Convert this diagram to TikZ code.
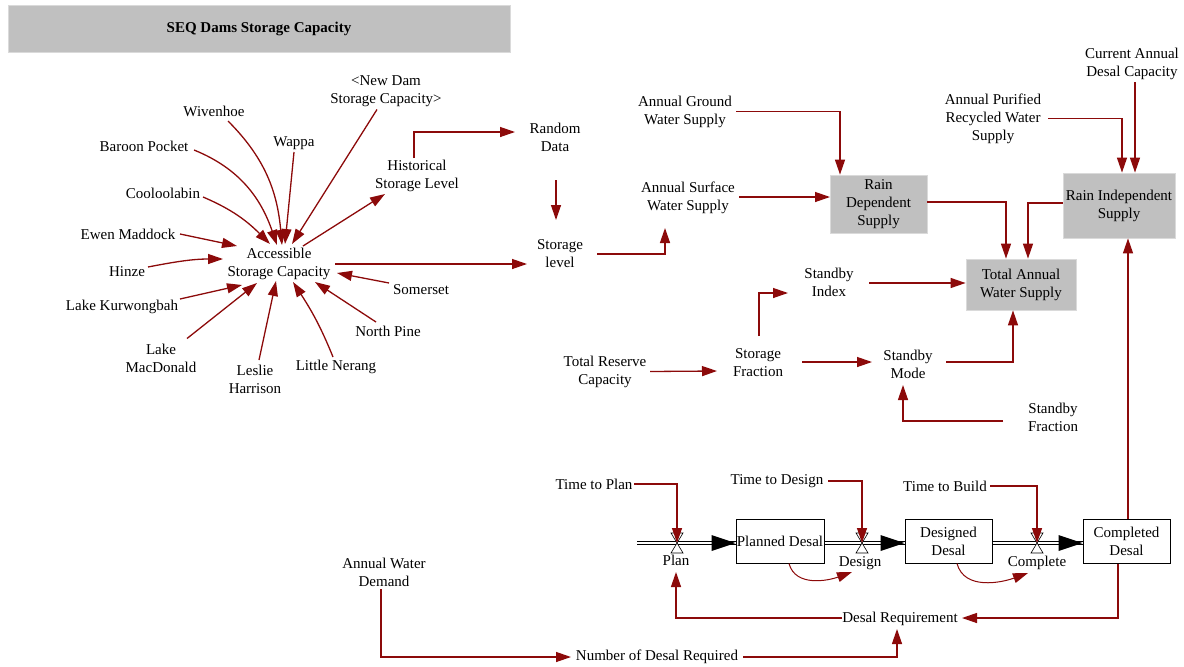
\documentclass[tikz,border=0pt]{standalone}
\usepackage{fontspec}
\setmainfont{Liberation Serif}
\usetikzlibrary{arrows.meta,calc}
\definecolor{dred}{RGB}{140,10,10}
\definecolor{boxgray}{RGB}{192,192,192}
\definecolor{boxedge}{RGB}{218,218,218}
\begin{document}
\begin{tikzpicture}[x=1pt,y=-1pt,
  lab/.style={font=\fontsize{15}{18}\selectfont, align=center, inner sep=1pt},
  lnk/.style={draw=dred, line width=1.3pt, -{Triangle[length=15pt,width=10pt]}},
  gbox/.style={lab, fill=boxgray, draw=boxedge, line width=0.8pt, inner sep=0pt},
  stock/.style={lab, draw=black, line width=1pt, fill=white, inner sep=0pt, minimum height=44pt},
  pipe/.style={draw=black, double=white, double distance=2.6pt, line width=0.9pt},
  valve/.style={draw=black, line width=0.6pt, fill=white},
]
\useasboundingbox (0,0) rectangle (1184,667);
% title
\node[fill=boxgray, draw=boxedge, line width=0.8pt, minimum width=502pt, minimum height=47pt, inner sep=0pt,
  font=\bfseries\fontsize{15}{18}\selectfont] (title) at (259,28.5) {SEQ Dams Storage Capacity};
% left cluster
\node[lab] (acc) at (279,264) {Accessible\\Storage Capacity};
\node[lab] (newdam) at (386,91.5) {<New Dam\\Storage Capacity>};
\node[lab] (wiv) at (214,111) {Wivenhoe};
\node[lab] (wappa) at (294,143) {Wappa};
\node[lab] (baroon) at (144,146) {Baroon Pocket};
\node[lab] (cool) at (163,193) {Cooloolabin};
\node[lab] (hist) at (417,176) {Historical\\Storage Level};
\node[lab] (ewen) at (128,234) {Ewen Maddock};
\node[lab] (hinze) at (127,272) {Hinze};
\node[lab] (kurw) at (122,307) {Lake Kurwongbah};
\node[lab] (macd) at (161,358.5) {Lake\\MacDonald};
\node[lab] (leslie) at (255,379) {Leslie\\Harrison};
\node[lab] (nerang) at (336,367) {Little Nerang};
\node[lab] (npine) at (388,331) {North Pine};
\node[lab] (somer) at (421,290) {Somerset};
% middle
\node[lab] (random) at (555,137) {Random\\Data};
\node[lab] (slevel) at (560,254) {Storage\\level};
\node[lab] (ground) at (685,111.5) {Annual Ground\\Water Supply};
\node[lab] (surface) at (688,198) {Annual Surface\\Water Supply};
\node[gbox, minimum width=97pt, minimum height=58pt] (raindep) at (878.5,204) {Rain\\Dependent\\Supply};
\node[gbox, minimum width=110pt, minimum height=51pt] (total) at (1021,284.5) {Total Annual\\Water Supply};
\node[gbox, minimum width=112pt, minimum height=65pt] (rainind) at (1119,205.5) {Rain Independent\\Supply};
\node[lab] (cadc) at (1132,64) {Current Annual\\Desal Capacity};
\node[lab] (apr) at (993,118.5) {Annual Purified\\Recycled Water\\Supply};
\node[lab] (sidx) at (829,282.5) {Standby\\Index};
\node[lab] (trc) at (605,371.5) {Total Reserve\\Capacity};
\node[lab] (sfrac) at (758,363) {Storage\\Fraction};
\node[lab] (smode) at (908,364) {Standby\\Mode};
\node[lab] (sfx) at (1053,417) {Standby\\Fraction};
% stock and flow
\node[lab] (tplan) at (594,484) {Time to Plan};
\node[lab] (tdesign) at (777,481) {Time to Design};
\node[lab] (tbuild) at (945,486) {Time to Build};
\node[stock, minimum width=88pt] (pd) at (780,541) {Planned Desal};
\node[stock, minimum width=87pt] (dd) at (948.5,541) {Designed\\Desal};
\node[stock, minimum width=87pt] (cd) at (1126.5,541) {Completed\\Desal};
\node[lab] (planlab) at (676,560) {Plan};
\node[lab] (designlab) at (860,563) {Design};
\node[lab] (complab) at (1037,563) {Complete};
\node[lab] (dreq) at (900,619) {Desal Requirement};
\node[lab] (awd) at (384,572) {Annual Water\\Demand};
\node[lab] (ndr) at (657,657) {Number of Desal Required};
\coordinate (src) at (637,543);
\coordinate (vplan) at (677,543);
\coordinate (vdesign) at (862,543);
\coordinate (vcomp) at (1037,543);
% pipes
\draw[pipe] (src) -- ($(pd.west)+(0,2)$);
\draw[pipe] ($(pd.east)+(0,2)$) -- ($(dd.west)+(0,2)$);
\draw[pipe] ($(dd.east)+(0,2)$) -- ($(cd.west)+(0,2)$);
\foreach \b in {pd,dd,cd}{
  \fill[black] ($(\b.west)+(0,2)$) -- +(-24,-8) -- +(-24,8) -- cycle;
}
\foreach \v in {vplan,vdesign,vcomp}{
  \draw[valve] (\v) -- +(-6,-10) -- +(6,-10) -- cycle;
  \draw[valve] (\v) -- +(-6,10) -- +(6,10) -- cycle;
}
% cluster connectors
\draw[lnk] ($(wiv)+(14,10)$) to[out=-45,in=95] ($(acc)+(3,-19)$);
\draw[lnk] ($(baroon)+(50,4)$) to[out=-22,in=109] ($(acc)+(-2,-19)$);
\draw[lnk] ($(cool)+(40,4)$) to[out=-23,in=135] ($(acc)+(-9,-20)$);
\draw[lnk] ($(wappa)+(0,9)$) -- ($(acc)+(6,-20)$);
\draw[lnk] ($(newdam)+(-9,18)$) -- ($(acc)+(13,-20)$);
\draw[lnk] ($(acc)+(24,-18)$) -- ($(hist)+(-32,18)$);
\draw[lnk] ($(ewen)+(52,0)$) -- ($(acc)+(-42,-18)$);
\draw[lnk] ($(hinze)+(21,-5)$) to[out=11,in=180] ($(acc)+(-56,-5)$);
\draw[lnk] ($(kurw)+(58,-8)$) -- ($(acc)+(-37,21)$);
\draw[lnk] ($(macd)+(26,-20)$) -- ($(acc)+(-22,19)$);
\draw[lnk] ($(leslie)+(4,-19)$) -- ($(acc)+(-3,17)$);
\draw[lnk] ($(nerang)+(-3,-10)$) to[out=112,in=-57] ($(acc)+(14,18)$);
\draw[lnk] ($(npine)+(-12,-9)$) -- ($(acc)+(36,18)$);
\draw[lnk] ($(somer)+(-32,-7)$) -- ($(acc)+(58,9)$);
\draw[lnk] ($(acc)+(56,0)$) -- ($(slevel)+(-33,10)$);
% middle connectors
\draw[lnk] ($(hist)+(-3,-18)$) |- ($(random)+(-40,-5)$);
\draw[lnk] ($(random)+(1,43)$) -- ($(slevel)+(-4,-34)$);
\draw[lnk] ($(slevel)+(37,0)$) -| ($(surface)+(-23,30)$);
\draw[lnk] ($(surface)+(51,-1)$) -- ($(raindep)+(-48.5,-7)$);
\draw[lnk] ($(ground)+(51,0)$) -| ($(raindep.north)+(-38.5,0)$);
\draw[lnk] ($(raindep.east)+(0,-2)$) -| ($(total.north)+(-15,0)$);
\draw[lnk] ($(rainind.west)+(0,-2.5)$) -| ($(total.north)+(7,0)$);
\draw[lnk] ($(apr)+(55,0)$) -| ($(rainind.north)+(3,0)$);
\draw[lnk] ($(cadc)+(3,18)$) -- ($(rainind.north)+(16,0)$);
\draw[lnk] ($(cd.north)+(1.5,0)$) -- ($(rainind.south)+(9,0)$);
\draw[lnk] ($(trc)+(45,0)$) -- ($(sfrac)+(-41,8)$);
\draw[lnk] ($(sfrac)+(1,-27)$) |- ($(sidx)+(-41,10.5)$);
\draw[lnk] ($(sidx)+(40,0.5)$) -- ($(total.west)+(0,-1.5)$);
\draw[lnk] ($(sfrac)+(44,-1)$) -- ($(smode)+(-36,-2)$);
\draw[lnk] ($(smode)+(38,-2)$) -| ($(total.south)+(-8,0)$);
\draw[lnk] ($(sfx)+(-50,4)$) -| ($(smode)+(-5,21)$);
% stock-flow connectors
\draw[lnk] ($(tplan)+(40,0)$) -| (vplan);
\draw[lnk] ($(tdesign)+(51,0)$) -| (vdesign);
\draw[lnk] ($(tbuild)+(45,0)$) -| (vcomp);
\draw[lnk, line width=1pt] ($(pd.south)+(9,0)$) to[out=-75,in=200] ($(designlab)+(-8,9)$);
\draw[lnk, line width=1pt] ($(dd.south)+(8.5,0)$) to[out=-75,in=200] ($(complab)+(-9,10)$);
\draw[lnk] ($(cd.south)+(-8.5,0)$) |- ($(dreq)+(62,-1)$);
\draw[lnk] ($(dreq)+(-58,-1)$) -| ($(planlab)+(0,12)$);
\draw[lnk] ($(ndr)+(86,0)$) -| ($(dreq)+(-3,10)$);
\draw[lnk] ($(awd)+(-3,17)$) |- ($(ndr)+(-86,0)$);
\end{tikzpicture}
\end{document}
